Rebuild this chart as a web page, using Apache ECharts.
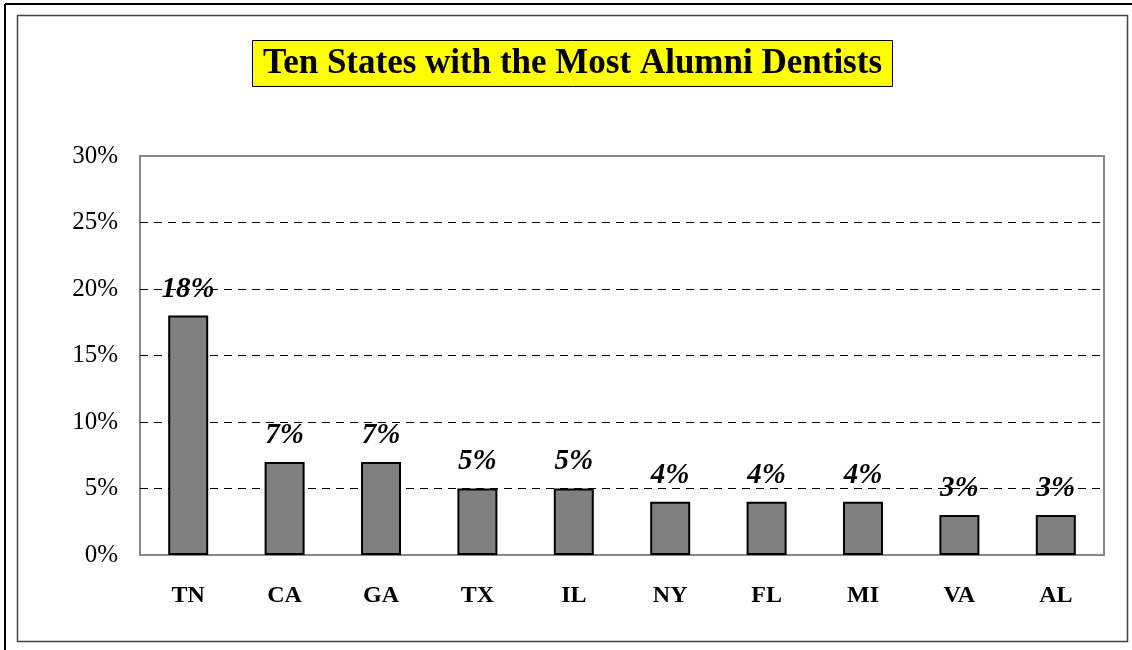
<!DOCTYPE html>
<html>
<head>
<meta charset="utf-8">
<script src="https://cdn.jsdelivr.net/npm/echarts@6/dist/echarts.min.js"></script>
<style>
  html, body { margin: 0; padding: 0; background: #fff; }
  #main { width: 1132px; height: 650px; }
</style>
</head>
<body>
<div id="main"></div>
<script>
var states = ["TN", "CA", "GA", "TX", "IL", "NY", "FL", "MI", "VA", "AL"];
var shares = [18, 7, 7, 5, 5, 4, 4, 4, 3, 3];
var yTicks = [0, 5, 10, 15, 20, 25, 30];

var serif = "'Liberation Serif', 'Times New Roman', serif";

var myChart = echarts.init(document.getElementById("main"));
myChart.setOption({
  backgroundColor: "#fff",
  animation: false,
  title: {
    text: "Ten States with the Most Alumni Dentists",
    left: 252,
    top: 40,
    padding: [6, 11, 6, 11],
    backgroundColor: "#ffff00",
    borderColor: "#000",
    borderWidth: 1,
    textStyle: {
      fontFamily: serif,
      fontSize: 35,
      fontWeight: "bold",
      color: "#000",
      lineHeight: 35
    }
  },
  graphic: [
    { type: "line", shape: { x1: 5, y1: 4, x2: 1132, y2: 4 }, style: { stroke: "#000", lineWidth: 2 } },
    { type: "line", shape: { x1: 5, y1: 4, x2: 5, y2: 650 }, style: { stroke: "#000", lineWidth: 2 } },
    { type: "rect", shape: { x: 17.5, y: 15.5, width: 1110, height: 626 }, style: { fill: "none", stroke: "#444", lineWidth: 1.5 } }
  ],
  grid: {
    show: true,
    left: 140,
    right: 28,
    top: 156,
    bottom: 95,
    borderColor: "#888",
    borderWidth: 2
  },
  xAxis: {
    type: "category",
    data: states,
    axisLine: { show: true, lineStyle: { color: "#888", width: 2 } },
    axisTick: { show: false },
    axisLabel: {
      margin: 29,
      fontFamily: serif,
      fontSize: 24,
      fontWeight: "bold",
      color: "#000"
    }
  },
  yAxis: {
    type: "value",
    min: yTicks[0],
    max: yTicks[yTicks.length - 1],
    interval: 5,
    axisLine: { show: false },
    axisTick: { show: false },
    axisLabel: {
      margin: 22,
      fontFamily: serif,
      fontSize: 25,
      color: "#000",
      formatter: function (v) { return v + "%"; }
    },
    splitLine: {
      show: true,
      lineStyle: {
        color: ["rgba(0,0,0,0)", "#000", "#000", "#000", "#000", "#000", "rgba(0,0,0,0)"],
        type: [8, 6],
        width: 1
      }
    }
  },
  series: [
    {
      type: "bar",
      data: shares,
      barWidth: 40,
      itemStyle: { color: "#808080", borderColor: "#000", borderWidth: 2 },
      label: {
        show: true,
        position: "top",
        distance: 12,
        fontFamily: serif,
        fontSize: 29,
        fontWeight: "bold",
        fontStyle: "italic",
        color: "#000",
        formatter: function (p) { return p.value + "%"; }
      }
    }
  ]
});
</script>
</body>
</html>
